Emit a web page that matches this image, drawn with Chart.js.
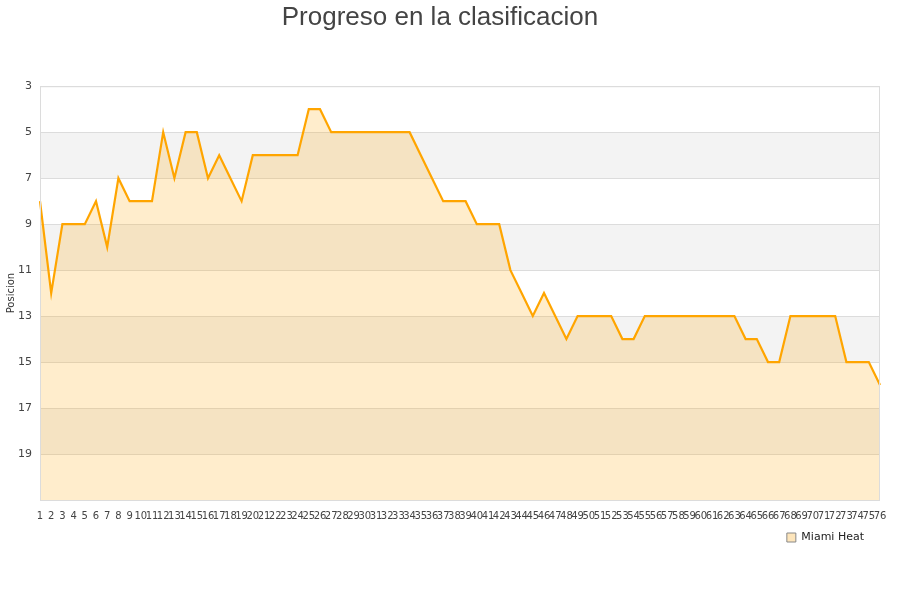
<!DOCTYPE html>
<html>
<head>
<meta charset="utf-8">
<script src="https://cdn.jsdelivr.net/npm/chart.js@4"></script>
<style>
  body { margin: 0; background: #fff; }
  #wrap { width: 900px; height: 600px; }
</style>
</head>
<body>
<div id="wrap"><canvas id="chart" width="900" height="600"></canvas></div>
<script>
const jornadas = [];
for (let i = 1; i <= 76; i++) jornadas.push(String(i));

const posiciones = [
  8, 12, 9, 9, 9, 8, 10, 7, 8, 8,
  8, 5, 7, 5, 5, 7, 6, 7, 8, 6,
  6, 6, 6, 6, 4, 4, 5, 5, 5, 5,
  5, 5, 5, 5, 6, 7, 8, 8, 8, 9,
  9, 9, 11, 12, 13, 12, 13, 14, 13, 13,
  13, 13, 14, 14, 13, 13, 13, 13, 13, 13,
  13, 13, 13, 14, 14, 15, 15, 13, 13, 13,
  13, 13, 15, 15, 15, 16
];

const yTicks = [3, 5, 7, 9, 11, 13, 15, 17, 19];
const bandas = [[5, 7], [9, 11], [13, 15], [17, 19]];

// fondo a rayas y borde del area
const fondoPlugin = {
  id: "fondo",
  afterLayout(chart) {
    // correr la leyenda un poco a la izquierda y abajo
    if (chart.legend) {
      chart.legend.left -= 10;
      chart.legend.right -= 10;
      chart.legend.top += 2;
      chart.legend.bottom += 2;
    }
  },
  beforeDraw(chart) {
    const { ctx, chartArea, scales } = chart;
    ctx.save();
    ctx.fillStyle = "#f3f3f3";
    bandas.forEach(([a, b]) => {
      const y1 = scales.y.getPixelForValue(a);
      const y2 = scales.y.getPixelForValue(b);
      ctx.fillRect(chartArea.left, y1, chartArea.right - chartArea.left, y2 - y1);
    });
    ctx.restore();
  },
  afterDraw(chart) {
    const { ctx, chartArea } = chart;
    ctx.save();
    ctx.strokeStyle = "#dcdcdc";
    ctx.lineWidth = 1;
    ctx.strokeRect(chartArea.left + 0.5, chartArea.top + 0.5,
      chartArea.right - chartArea.left - 1, chartArea.bottom - chartArea.top);
    ctx.restore();
  },
};

new Chart(document.getElementById("chart"), {
  type: "line",
  data: {
    labels: jornadas,
    datasets: [
      {
        label: "Miami Heat",
        data: posiciones,
        borderColor: "#ffa500",
        backgroundColor: "rgba(255,165,0,0.2)",
        borderWidth: 2.2,
        pointRadius: 0,
        tension: 0,
        fill: { value: 21 },
      },
    ],
  },
  options: {
    responsive: false,
    animation: false,
    layout: { padding: { left: 0, right: 20, top: 0, bottom: 49 } },
    plugins: {
      title: {
        display: true,
        text: "Progreso en la clasificacion",
        color: "#444",
        font: { family: "Liberation Sans", size: 26, weight: "normal" },
        padding: { top: 2, bottom: 53 },
      },
      legend: {
        position: "bottom",
        align: "end",
        labels: {
          boxWidth: 9,
          boxHeight: 9,
          padding: 6,
          color: "#222",
          font: { family: "DejaVu Sans", size: 11 },
          generateLabels(chart) {
            return Chart.defaults.plugins.legend.labels.generateLabels(chart).map((l) => {
              l.fillStyle = "#fde5bb";
              l.strokeStyle = "#888";
              l.lineWidth = 1;
              return l;
            });
          },
        },
      },
      tooltip: { enabled: false },
    },
    scales: {
      x: {
        grid: { display: false },
        border: { display: false },
        ticks: {
          autoSkip: false,
          maxRotation: 0,
          minRotation: 0,
          color: "#444",
          padding: 2,
          font: { family: "DejaVu Sans", size: 10 },
        },
      },
      y: {
        reverse: true,
        min: 3,
        max: 21,
        afterFit(scale) {
          scale.width = 40;
        },
        afterBuildTicks(scale) {
          scale.ticks = yTicks.concat([21]).map((v) => ({ value: v }));
        },
        grid: { color: "#dcdcdc", drawTicks: false },
        border: { display: false },
        title: {
          display: true,
          text: "Posicion",
          color: "#333",
          padding: { top: 5, bottom: 0 },
          font: { family: "DejaVu Sans", size: 10 },
        },
        ticks: {
          color: "#444",
          padding: 8,
          font: { family: "DejaVu Sans", size: 11 },
          callback: (v) => (yTicks.includes(v) ? v : ""),
        },
      },
    },
  },
  plugins: [fondoPlugin],
});
</script>
</body>
</html>
